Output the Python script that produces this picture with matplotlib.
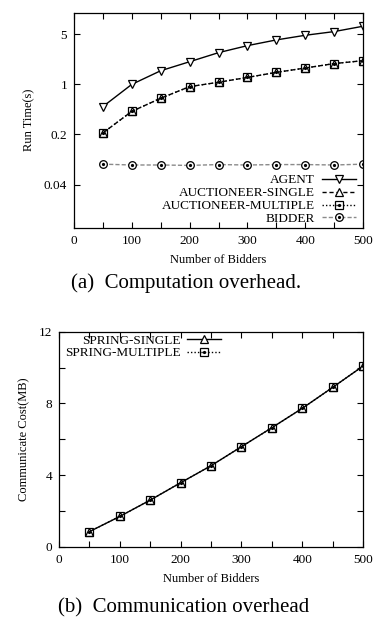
import matplotlib
matplotlib.use("Agg")
import matplotlib.pyplot as plt
from matplotlib.ticker import FixedLocator, NullLocator, NullFormatter

plt.rcParams['font.family'] = ['Liberation Serif', 'DejaVu Serif']

bidders = [50, 100, 150, 200, 250, 300, 350, 400, 450, 500]

# (a) run time in seconds
agent = [0.49, 1.0, 1.55, 2.07, 2.77, 3.47, 4.17, 4.84, 5.45, 6.47]
auct_single = [0.21, 0.42, 0.64, 0.93, 1.07, 1.25, 1.47, 1.69, 1.95, 2.14]
auct_multiple = [0.21, 0.42, 0.64, 0.93, 1.07, 1.25, 1.47, 1.69, 1.95, 2.14]
bidder = [0.077, 0.075, 0.075, 0.074, 0.076, 0.075, 0.076, 0.076, 0.075, 0.077]

# (b) communication cost in MB
spring_single = [0.84, 1.69, 2.60, 3.57, 4.52, 5.58, 6.64, 7.72, 8.89, 10.08]
spring_multiple = [0.84, 1.69, 2.60, 3.57, 4.52, 5.58, 6.64, 7.72, 8.89, 10.08]

W, H = 376, 621
fig = plt.figure(figsize=(W / 100, H / 100), dpi=100)


def px_axes(left, top, right, bottom):
    return fig.add_axes([left / W, 1 - bottom / H, (right - left) / W, (bottom - top) / H])


def style_axes(ax):
    for s in ax.spines.values():
        s.set_linewidth(0.9)
    ax.tick_params(which='both', direction='in', top=True, right=True,
                   length=4, width=0.8, labelsize=9.5, pad=5)


def right_align_legend(leg):
    for col in leg._legend_handle_box.get_children():
        col.align = 'right'


def dotted_marker(ax, x, y, marker, color='black', ls='-', lw=1.0, size=5.0, face='none'):
    # gnuplot style "boxed dot" / "circled dot" point: outline plus small centre dot
    line, = ax.plot(x, y, color=color, ls=ls, lw=lw, marker=marker, markersize=size,
                    markerfacecolor=face, markeredgecolor='black', markeredgewidth=0.9)
    dots, = ax.plot(x, y, ls='none', marker='o', markersize=1.3, color='black')
    return (line, dots)


mk = dict(markersize=5.2, markerfacecolor='white', markeredgecolor='black', markeredgewidth=0.9)

# ---- (a) computation overhead
ax1 = px_axes(74, 12.7, 363, 227.7)
h_agent, = ax1.plot(bidders, agent, color='black', lw=1.0, ls='-', marker='v', **mk)
h_single, = ax1.plot(bidders, auct_single, color='black', lw=1.0, ls=(0, (3, 2)),
                     marker='^', **mk)
h_multi = dotted_marker(ax1, bidders, auct_multiple, 's', ls=(0, (1, 1.5)), size=5.5)
h_bidder = dotted_marker(ax1, bidders, bidder, 'o', color='#8a8a8a', ls=(0, (3, 1.5)),
                         size=5.5, face='white')
ax1.set_yscale('log')
ax1.set_xlim(0, 500)
ax1.set_ylim(0.01, 10)
ax1.yaxis.set_major_locator(FixedLocator([0.04, 0.2, 1, 5]))
ax1.set_yticklabels(['0.04', '0.2', '1', '5'])
ax1.yaxis.set_minor_locator(NullLocator())
ax1.yaxis.set_minor_formatter(NullFormatter())
ax1.set_xticks([0, 100, 200, 300, 400, 500])
ax1.set_xticks([50, 150, 250, 350, 450], minor=True)
style_axes(ax1)
ax1.set_xlabel('Number of Bidders', fontsize=9, labelpad=5)
ax1.set_ylabel('Run Time(s)', fontsize=9, labelpad=6)
leg1 = ax1.legend([h_agent, h_single, h_multi, h_bidder],
                  ['AGENT', 'AUCTIONEER-SINGLE', 'AUCTIONEER-MULTIPLE', 'BIDDER'],
                  loc='lower right', markerfirst=False, frameon=False, fontsize=9.5,
                  handlelength=2.6, numpoints=1, labelspacing=0.05, handletextpad=0.5,
                  borderaxespad=0.0, borderpad=0.2, bbox_to_anchor=(0.985, 0.0))
right_align_legend(leg1)

# ---- (b) communication overhead
ax2 = px_axes(59, 331.7, 363, 546.7)
h_ss, = ax2.plot(bidders, spring_single, color='black', lw=1.0, ls='-', marker='^', **mk)
h_sm = dotted_marker(ax2, bidders, spring_multiple, 's', ls=(0, (1, 1.5)), size=5.5)
ax2.set_xlim(0, 500)
ax2.set_ylim(0, 12)
ax2.set_yticks([0, 4, 8, 12])
ax2.set_yticks([2, 6, 10], minor=True)
ax2.set_xticks([0, 100, 200, 300, 400, 500])
ax2.set_xticks([50, 150, 250, 350, 450], minor=True)
style_axes(ax2)
ax2.set_xlabel('Number of Bidders', fontsize=9, labelpad=5)
ax2.set_ylabel('Communicate Cost(MB)', fontsize=9, labelpad=6)
leg2 = ax2.legend([h_ss, h_sm], ['SPRING-SINGLE', 'SPRING-MULTIPLE'],
                  loc='upper left', markerfirst=False, frameon=False, fontsize=9.5,
                  handlelength=2.6, numpoints=1, labelspacing=0.05, handletextpad=0.5,
                  borderaxespad=0.0, borderpad=0.2, bbox_to_anchor=(0.01, 1.0))
right_align_legend(leg2)

fig.text(186 / W, 1 - 283 / H, '(a)  Computation overhead.', ha='center', va='center', fontsize=15)
fig.text(184 / W, 1 - 608 / H, '(b)  Communication overhead', ha='center', va='center', fontsize=15)

fig.savefig('out.png', dpi=100)
